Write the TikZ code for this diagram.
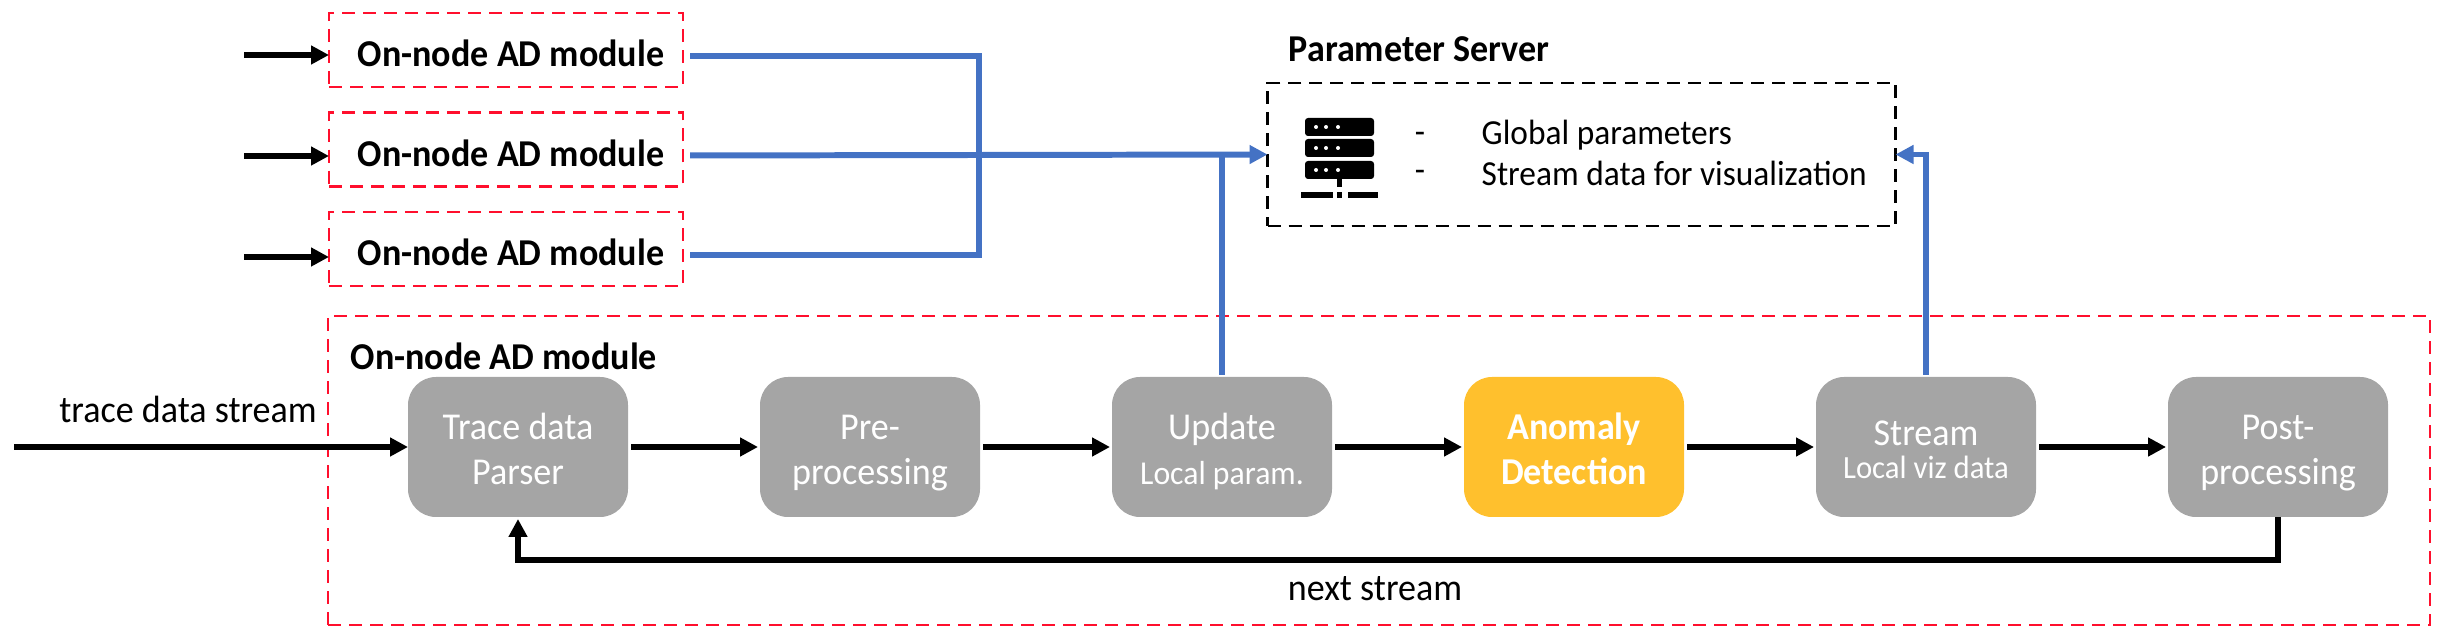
\documentclass[tikz,border=0pt]{standalone}
\usepackage{fontspec}
\setmainfont[FakeStretch=.95]{Carlito}
\usetikzlibrary{arrows.meta}
\definecolor{redline}{HTML}{FF0F2D}
\definecolor{blueline}{HTML}{4472C4}
\definecolor{boxgray}{HTML}{A5A5A5}
\definecolor{boxyellow}{HTML}{FFC02D}
\tikzset{
  module/.style={rectangle, draw=redline, line width=.8pt, dash pattern=on .13cm off .08cm,
    minimum width=3.54cm, minimum height=.74cm, inner sep=0, outer sep=0,
    text height=.44cm, text depth=.10cm, font=\fontsize{10.8}{13}\selectfont\bfseries,
    execute at begin node={\hspace*{.1cm}}},
  stage/.style={rectangle, rounded corners=.28cm, fill=boxgray, text=white, align=center,
    minimum width=2.2cm, minimum height=1.4cm, inner sep=0, outer sep=0,
    font=\fontsize{10.8}{13}\selectfont},
  small/.style={font=\fontsize{10}{13}\selectfont},
  label/.style={font=\fontsize{10.8}{13}\selectfont},
  flow/.style={line width=1.8pt, -{Triangle[length=.18cm,width=.18cm]}},
  uplink/.style={line width=1.7pt, draw=blueline},
  uptip/.style={-{Triangle[length=.18cm,width=.18cm]}, blueline}
}
\newcommand{\subline}[1]{{\fontsize{9.5}{11}\selectfont #1}}
\newcommand{\lift}{\rule{0pt}{.46cm}}
\newcommand{\drop}{\rule[-.16cm]{0pt}{.16cm}}

\begin{document}
\begin{tikzpicture}
      \useasboundingbox (0,0) rectangle (24.4,6.38);

      % other nodes
      \node at(5.06,5.88) [module] (mod-a) {On-node AD module};
      \node at(5.06,4.885) [module] (mod-b) {On-node AD module};
      \node at(5.06,3.89) [module] (mod-c) {On-node AD module};
      \coordinate (in-a) at (2.44,5.83);
      \coordinate (in-b) at (2.44,4.82);
      \coordinate (in-c) at (2.44,3.81);
      \coordinate (join) at (9.79,4.83);

      % parameter server
      \node at(15.815,4.835) [rectangle, draw, line width=.8pt, dash pattern=on .13cm off .08cm,
        minimum width=6.28cm, minimum height=1.43cm, outer sep=0] (server) {};
      \node at(12.88,5.89) [anchor=west, inner sep=0, font=\fontsize{10.8}{13}\selectfont\bfseries] (server-title) {Parameter Server};
      \node at(14.2,5.00) [small, inner sep=0] (dash-a) {-};
      \node at(14.2,4.62) [small, inner sep=0] (dash-b) {-};
      \node at(14.81,5.03) [small, anchor=west, inner sep=0] (server-global) {Global parameters};
      \node at(14.81,4.65) [small, anchor=west, inner sep=0] (server-viz) {Stream data for visualization};

      % server icon
      \foreach \y in {5.02,4.81,4.59} {
        \fill[rounded corners=.03cm] (13.05,\y) rectangle +(.69,.18);
        \foreach \x in {13.16,13.26,13.38}
          \fill[white] (\x,\y+.09) circle (.02);
      }
      \fill (13.37,4.59) rectangle (13.42,4.51);
      \fill (13.01,4.46) rectangle (13.33,4.40);
      \fill (13.37,4.46) rectangle (13.42,4.40);
      \fill (13.48,4.46) rectangle (13.78,4.40);

      % main module
      \node at(13.79,1.675) [rectangle, draw=redline, line width=.8pt, dash pattern=on .13cm off .08cm,
        minimum width=21.02cm, minimum height=3.09cm, outer sep=0] (main) {};
      \node at(3.5,2.82) [anchor=west, inner sep=0, font=\fontsize{10.8}{13}\selectfont\bfseries] (main-title) {On-node AD module};

      \node at(5.18,1.91) [stage] (parser) {\lift Trace data\\Parser\drop};
      \node at(8.70,1.91) [stage] (pre) {\lift Pre-\\processing\drop};
      \node at(12.22,1.91) [stage] (update) {\lift Update\\\subline{Local param.}\drop};
      \node at(15.74,1.91) [stage, fill=boxyellow, font=\fontsize{10.8}{13}\selectfont\bfseries] (anomaly) {\lift Anomaly\\Detection\drop};
      \node at(19.26,1.91) [stage] (stream) {\lift Stream\\[-3.5pt]{\fontsize{9.2}{11}\selectfont Local viz data}\drop};
      \node at(22.78,1.91) [stage] (post) {\lift Post-\\processing\drop};

      \coordinate (start) at (.14,1.91);
      \coordinate (back) at (13.79,.78);
      \node at(1.88,2.29) [inner sep=0, label] (start-label) {trace data stream};
      \node at(13.75,.49) [inner sep=0, label] (back-label) {next stream};

      % black arrows
      \draw[flow] (in-a) -- (mod-a.west |- in-a);
      \draw[flow] (in-b) -- (mod-b.west |- in-b);
      \draw[flow] (in-c) -- (mod-c.west |- in-c);
      \draw[flow] (start) -- (parser);
      \draw[flow, shorten <=.03cm, shorten >=.02cm] (parser) -- (pre);
      \draw[flow, shorten <=.03cm, shorten >=.02cm] (pre) -- (update);
      \draw[flow, shorten <=.03cm, shorten >=.02cm] (update) -- (anomaly);
      \draw[flow, shorten <=.03cm, shorten >=.02cm] (anomaly) -- (stream);
      \draw[flow, shorten <=.03cm, shorten >=.02cm] (stream) -- (post);
      \draw[flow, shorten >=.02cm] (post.south) |- (back) -| (parser.south);

      % blue lines
      \draw[uplink, shorten <=.07cm] ([yshift=-.06cm]mod-a.east) -| (join);
      \draw[uplink, shorten <=.07cm] ([yshift=-.06cm]mod-c.east) -| (join);
      \draw[uplink, uptip, shorten <=.07cm] ([yshift=-.06cm]mod-b.east) -- (join) -- (server.west);
      \draw[uplink, shorten <=.02cm] (update.north) -- (update.north |- server.west);
      \draw[uplink, uptip, shorten <=.02cm] (stream.north) |- (server.east);
\end{tikzpicture}
\end{document}
